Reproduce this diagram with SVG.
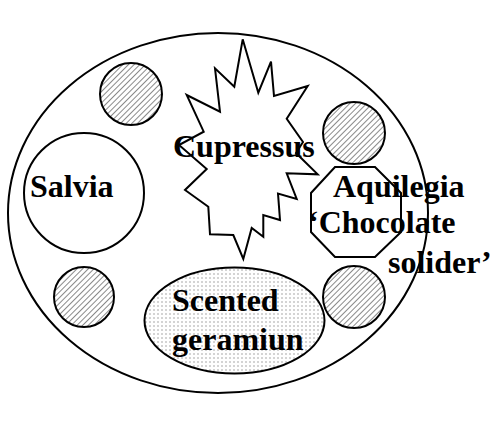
<svg xmlns="http://www.w3.org/2000/svg" width="500" height="438" viewBox="0 0 500 438">
<defs>
<pattern id="hatch" patternUnits="userSpaceOnUse" width="4" height="4" patternTransform="rotate(45)">
<rect width="4" height="4" fill="#ffffff"/>
<line x1="0" y1="0" x2="0" y2="4" stroke="#3a3a3a" stroke-width="1.2"/>
</pattern>
<pattern id="dots" patternUnits="userSpaceOnUse" width="4" height="4">
<rect width="4" height="4" fill="#ffffff"/>
<circle cx="2" cy="2" r="0.7" fill="#8a8a8a"/>
</pattern>
<style>
.ln{stroke:#000;stroke-width:2;fill:#fff}
.hc{stroke:#000;stroke-width:2;fill:url(#hatch)}
.lb{font-family:"Liberation Serif","Times New Roman",serif;font-weight:bold;font-size:32px;fill:#000}
</style>
</defs>
<rect width="500" height="438" fill="#ffffff"/>
<g id="bed"><ellipse class="ln" cx="218" cy="213" rx="210" ry="180"/></g>
<g id="spot1"><circle class="hc" cx="131" cy="94" r="31"/></g>
<g id="spot2"><circle class="hc" cx="354" cy="133" r="31"/></g>
<g id="spot3"><circle class="hc" cx="84" cy="297" r="30"/></g>
<g id="spot4"><circle class="hc" cx="354" cy="297" r="31"/></g>
<g id="salvia"><circle class="ln" cx="84" cy="193" r="60"/><text class="lb" x="30" y="197">Salvia</text></g>
<g id="cupressus"><polygon class="ln" stroke-linejoin="miter" points="242.7,39.3 258.3,92.7 271,61.7 274,96 307.7,86 286.7,118.7 303,142 296,153 317.7,174.3 286.7,173.3 296.7,199 278,193.5 280,220 263.3,215 263.3,236.7 251.7,228 243.3,259 233.3,235 210,234.3 208.3,206.7 185,190 206.7,169 179,145 203.7,131.7 186.7,95 220,111.7 215,68.3 234.3,86.7"/><text class="lb" x="173" y="157">Cupressus</text></g>
<g id="aquilegia"><polygon class="ln" points="335,167 375,167 401,193 401,232 375,257 335,257 311,232 311,193"/><text class="lb" x="333" y="197">Aquilegia</text><text class="lb" x="308" y="233">‘Chocolate</text><text class="lb" x="388" y="273">solider’</text></g>
<g id="geranium"><ellipse cx="234.5" cy="320.5" rx="90" ry="53" stroke="#000" stroke-width="2" fill="url(#dots)"/><text class="lb" x="172" y="311">Scented</text><text class="lb" x="172" y="350">geramiun</text></g>
<g id="connectors"/>
</svg>
